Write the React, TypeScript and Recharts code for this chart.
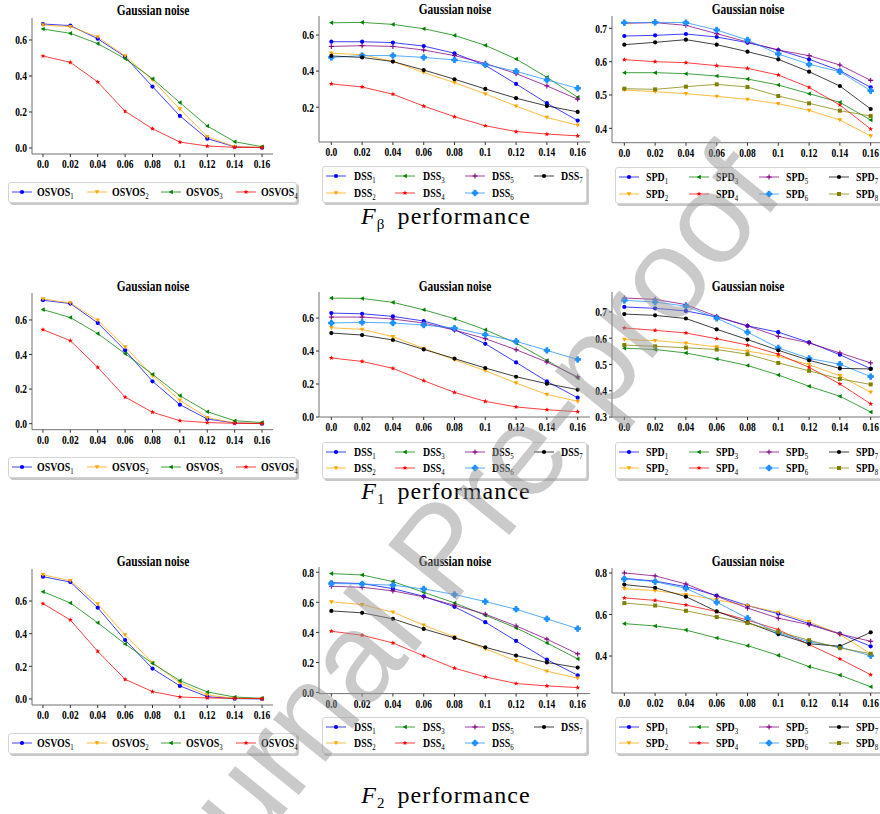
import React from 'react';
import { LineChart, Line, XAxis, YAxis } from 'recharts';

const noise = [0, 0.02, 0.04, 0.06, 0.08, 0.1, 0.12, 0.14, 0.16];
const noiseLabels = ['0.0', '0.02', '0.04', '0.06', '0.08', '0.1', '0.12', '0.14', '0.16'];

const osvosNames = ['OSVOS', 'OSVOS', 'OSVOS', 'OSVOS'];
const dssNames = ['DSS', 'DSS', 'DSS', 'DSS', 'DSS', 'DSS', 'DSS'];
const spdNames = ['SPD', 'SPD', 'SPD', 'SPD', 'SPD', 'SPD', 'SPD', 'SPD'];

// F-beta
const fbOsvos = [
  [0.689, 0.68, 0.607, 0.507, 0.341, 0.178, 0.052, 0.007, 0.002],
  [0.683, 0.674, 0.617, 0.511, 0.378, 0.217, 0.063, 0.007, 0.004],
  [0.661, 0.637, 0.58, 0.496, 0.385, 0.252, 0.122, 0.035, 0.007],
  [0.511, 0.476, 0.367, 0.204, 0.107, 0.033, 0.011, 0.004, 0.002],
];
const fbDss = [
  [0.563, 0.563, 0.558, 0.539, 0.499, 0.432, 0.329, 0.222, 0.126],
  [0.499, 0.491, 0.454, 0.392, 0.336, 0.274, 0.206, 0.143, 0.1],
  [0.668, 0.67, 0.659, 0.635, 0.598, 0.543, 0.467, 0.366, 0.255],
  [0.329, 0.312, 0.272, 0.206, 0.147, 0.097, 0.065, 0.051, 0.041],
  [0.537, 0.541, 0.537, 0.517, 0.486, 0.443, 0.386, 0.318, 0.244],
  [0.476, 0.486, 0.486, 0.476, 0.462, 0.436, 0.399, 0.351, 0.305],
  [0.484, 0.476, 0.453, 0.406, 0.355, 0.301, 0.25, 0.207, 0.174],
];
const fbSpd = [
  [0.677, 0.679, 0.683, 0.674, 0.657, 0.635, 0.607, 0.573, 0.523],
  [0.515, 0.51, 0.504, 0.496, 0.487, 0.474, 0.454, 0.425, 0.377],
  [0.567, 0.567, 0.564, 0.557, 0.548, 0.53, 0.504, 0.478, 0.425],
  [0.606, 0.6, 0.597, 0.588, 0.58, 0.56, 0.523, 0.47, 0.398],
  [0.715, 0.717, 0.709, 0.684, 0.659, 0.635, 0.618, 0.59, 0.544],
  [0.717, 0.718, 0.717, 0.695, 0.665, 0.623, 0.592, 0.57, 0.513],
  [0.651, 0.658, 0.666, 0.651, 0.63, 0.607, 0.57, 0.527, 0.458],
  [0.519, 0.517, 0.525, 0.532, 0.524, 0.497, 0.475, 0.453, 0.437],
];

// F1
const f1Osvos = [
  [0.714, 0.695, 0.583, 0.424, 0.245, 0.11, 0.027, 0.004, 0.0],
  [0.722, 0.698, 0.598, 0.444, 0.278, 0.135, 0.035, 0.004, 0.002],
  [0.66, 0.614, 0.521, 0.405, 0.286, 0.162, 0.069, 0.017, 0.006],
  [0.544, 0.48, 0.326, 0.154, 0.066, 0.017, 0.006, 0.002, 0.0],
];
const f1Dss = [
  [0.63, 0.626, 0.61, 0.582, 0.529, 0.444, 0.331, 0.216, 0.117],
  [0.541, 0.531, 0.487, 0.416, 0.347, 0.281, 0.206, 0.137, 0.095],
  [0.721, 0.719, 0.695, 0.65, 0.596, 0.529, 0.448, 0.343, 0.236],
  [0.358, 0.337, 0.295, 0.22, 0.149, 0.095, 0.061, 0.044, 0.032],
  [0.606, 0.606, 0.594, 0.57, 0.527, 0.475, 0.408, 0.333, 0.244],
  [0.57, 0.574, 0.57, 0.558, 0.539, 0.499, 0.459, 0.404, 0.349],
  [0.509, 0.497, 0.467, 0.41, 0.354, 0.297, 0.244, 0.202, 0.166],
];
const f1Spd = [
  [0.719, 0.714, 0.704, 0.681, 0.647, 0.623, 0.584, 0.537, 0.484],
  [0.595, 0.591, 0.581, 0.567, 0.551, 0.531, 0.499, 0.457, 0.394],
  [0.562, 0.557, 0.544, 0.521, 0.496, 0.46, 0.417, 0.379, 0.319],
  [0.639, 0.63, 0.62, 0.598, 0.574, 0.539, 0.489, 0.426, 0.35],
  [0.753, 0.748, 0.728, 0.683, 0.647, 0.607, 0.582, 0.544, 0.506],
  [0.744, 0.738, 0.722, 0.676, 0.623, 0.563, 0.523, 0.501, 0.454],
  [0.692, 0.687, 0.675, 0.634, 0.595, 0.554, 0.516, 0.485, 0.483],
  [0.574, 0.569, 0.564, 0.557, 0.539, 0.506, 0.476, 0.445, 0.424],
];

// F2
const f2Osvos = [
  [0.749, 0.716, 0.559, 0.361, 0.186, 0.08, 0.014, 0.002, 0.0],
  [0.761, 0.724, 0.582, 0.392, 0.222, 0.1, 0.024, 0.004, 0.002],
  [0.657, 0.588, 0.467, 0.337, 0.218, 0.112, 0.043, 0.012, 0.004],
  [0.584, 0.484, 0.292, 0.12, 0.045, 0.012, 0.006, 0.004, 0.002],
];
const f2Dss = [
  [0.731, 0.725, 0.691, 0.64, 0.57, 0.468, 0.343, 0.219, 0.115],
  [0.603, 0.585, 0.534, 0.448, 0.37, 0.29, 0.211, 0.142, 0.095],
  [0.791, 0.782, 0.738, 0.667, 0.596, 0.514, 0.43, 0.33, 0.224],
  [0.408, 0.381, 0.33, 0.244, 0.162, 0.104, 0.06, 0.044, 0.033],
  [0.707, 0.7, 0.676, 0.636, 0.581, 0.521, 0.443, 0.355, 0.257],
  [0.725, 0.722, 0.714, 0.689, 0.652, 0.605, 0.554, 0.49, 0.425],
  [0.543, 0.53, 0.49, 0.423, 0.363, 0.301, 0.246, 0.2, 0.166],
];
const f2Spd = [
  [0.774, 0.761, 0.734, 0.691, 0.643, 0.604, 0.556, 0.508, 0.447],
  [0.724, 0.715, 0.696, 0.671, 0.643, 0.61, 0.565, 0.504, 0.411],
  [0.556, 0.545, 0.525, 0.487, 0.45, 0.403, 0.349, 0.308, 0.252],
  [0.68, 0.668, 0.646, 0.614, 0.573, 0.527, 0.455, 0.386, 0.31],
  [0.8, 0.786, 0.747, 0.688, 0.631, 0.582, 0.551, 0.506, 0.471],
  [0.771, 0.758, 0.726, 0.659, 0.582, 0.511, 0.469, 0.443, 0.402],
  [0.744, 0.729, 0.686, 0.615, 0.562, 0.506, 0.459, 0.447, 0.514],
  [0.655, 0.643, 0.618, 0.588, 0.559, 0.517, 0.476, 0.439, 0.411],
];

const colors = ['#0000ff', '#ffa500', '#008000', '#ff0000', '#800080', '#1e90ff', '#000000', '#808000'];
const markers = ['o', 'v', '<', '*', '+', 'P', 'o', 's'];

const SERIF = '"Liberation Serif", "Times New Roman", serif';
const FRAME = '#707070';
const AXIS_W = 45;
const AXIS_H = 25;
const PAD_T = 20;
const xDomain: [number, number] = [-0.008, 0.168];

function Marker({ shape, cx, cy, color }: { shape: string; cx: number; cy: number; color: string }) {
  if (shape === 'v') {
    return <polygon points={`${cx - 2.3},${cy - 1.7} ${cx + 2.3},${cy - 1.7} ${cx},${cy + 2.3}`} fill={color} />;
  }
  if (shape === '<') {
    return <polygon points={`${cx - 2.3},${cy} ${cx + 1.8},${cy - 2.3} ${cx + 1.8},${cy + 2.3}`} fill={color} />;
  }
  if (shape === '*') {
    const pts: string[] = [];
    for (let i = 0; i < 10; i++) {
      const r = i % 2 === 0 ? 2.6 : 1.1;
      const a = -Math.PI / 2 + (i * Math.PI) / 5;
      pts.push(`${cx + r * Math.cos(a)},${cy + r * Math.sin(a)}`);
    }
    return <polygon points={pts.join(' ')} fill={color} />;
  }
  if (shape === '+') {
    return (
      <g stroke={color} strokeWidth={1.1}>
        <line x1={cx - 2.5} y1={cy} x2={cx + 2.5} y2={cy} />
        <line x1={cx} y1={cy - 2.5} x2={cx} y2={cy + 2.5} />
      </g>
    );
  }
  if (shape === 'P') {
    return (
      <g fill={color}>
        <rect x={cx - 3.2} y={cy - 1.3} width={6.4} height={2.6} />
        <rect x={cx - 1.3} y={cy - 3.2} width={2.6} height={6.4} />
        <circle cx={cx} cy={cy} r={2.2} />
      </g>
    );
  }
  if (shape === 's') {
    return <rect x={cx - 2} y={cy - 2} width={4} height={4} fill={color} />;
  }
  return <circle cx={cx} cy={cy} r={2.1} fill={color} />;
}

const makeDot = (k: number) => (p: any) => (
  <Marker key={`d${k}-${p.index}`} shape={markers[k]} cx={p.cx} cy={p.cy} color={colors[k]} />
);

const XTick = (p: any) => {
  const i = noise.findIndex((v) => Math.abs(v - p.payload.value) < 1e-9);
  return (
    <g transform={`translate(${p.x},${p.y}) scale(0.76,1)`}>
      <text x={0} y={0} dy={9} textAnchor="middle" fontSize={12.5} fontWeight="bold" fontFamily={SERIF} fill="#000">
        {noiseLabels[i]}
      </text>
    </g>
  );
};

const YTick = (p: any) => (
  <g transform={`translate(${p.x},${p.y}) scale(0.76,1)`}>
    <text x={0} y={0} dy={4.3} textAnchor="end" fontSize={12.5} fontWeight="bold" fontFamily={SERIF} fill="#000">
      {Number(p.payload.value).toFixed(1)}
    </text>
  </g>
);

type PanelProps = {
  box: [number, number, number, number];
  yDomain: [number, number];
  yTicks: number[];
  series: number[][];
};

function Panel({ box, yDomain, yTicks, series }: PanelProps) {
  const [L, T, R, B] = box;
  const data = noise.map((x, i) => {
    const row: Record<string, number> = { x };
    series.forEach((s, k) => {
      row['s' + k] = s[i];
    });
    return row;
  });
  const w = AXIS_W + (R - L) + 2;
  const h = PAD_T + (B - T) + AXIS_H;
  return (
    <div style={{ position: 'absolute', left: L - AXIS_W, top: T - PAD_T }}>
      <LineChart width={w} height={h} data={data} margin={{ top: PAD_T, right: 2, bottom: 0, left: 0 }}>
        <XAxis
          dataKey="x"
          type="number"
          domain={xDomain}
          allowDataOverflow
          ticks={noise}
          interval={0}
          height={AXIS_H}
          tick={XTick}
          tickSize={3}
          tickMargin={2}
          stroke={FRAME}
          tickLine={{ stroke: '#333' }}
        />
        <XAxis
          xAxisId="top"
          orientation="top"
          dataKey="x"
          type="number"
          domain={xDomain}
          allowDataOverflow
          height={0}
          tick={false}
          tickLine={false}
          stroke={FRAME}
        />
        <YAxis
          type="number"
          domain={yDomain}
          allowDataOverflow
          ticks={yTicks}
          interval={0}
          width={AXIS_W}
          tick={YTick}
          tickSize={3}
          tickMargin={2}
          stroke={FRAME}
          tickLine={{ stroke: '#333' }}
        />
        <YAxis
          yAxisId="right"
          orientation="right"
          type="number"
          domain={yDomain}
          allowDataOverflow
          width={0}
          tick={false}
          tickLine={false}
          stroke={FRAME}
        />
        {series.map((_, k) => (
          <Line
            key={k}
            dataKey={'s' + k}
            stroke={colors[k]}
            strokeOpacity={0.75}
            strokeWidth={1}
            dot={makeDot(k)}
            activeDot={false}
            isAnimationActive={false}
          />
        ))}
      </LineChart>
    </div>
  );
}

type LegendProps = {
  left: number;
  top: number;
  width: number;
  names: string[];
  rows: number;
  step: number;
  textGap: number;
};

function LegendBox({ left, top, width, names, rows, step, textGap }: LegendProps) {
  const height = rows === 1 ? 21 : 37;
  return (
    <div
      style={{
        position: 'absolute',
        left,
        top,
        width,
        height,
        border: '1px solid #d4d4d4',
        borderRadius: 3,
        boxShadow: '2px 2px 0 rgba(0,0,0,0.22)',
        background: '#fff',
        boxSizing: 'border-box',
      }}
    >
      {names.map((n, i) => {
        const col = rows === 1 ? i : Math.floor(i / 2);
        const row = rows === 1 ? 0 : i % 2;
        const cy = 9 + row * 16.5;
        const lx = 3 + col * step;
        return (
          <div key={i}>
            <svg style={{ position: 'absolute', left: lx, top: cy - 5 }} width={20} height={10}>
              <line x1={0} y1={5} x2={20} y2={5} stroke={colors[i]} strokeOpacity={0.75} strokeWidth={1} />
              <Marker shape={markers[i]} cx={10} cy={5} color={colors[i]} />
            </svg>
            <div
              style={{
                position: 'absolute',
                left: lx + textGap,
                top: cy - 8,
                fontFamily: SERIF,
                fontWeight: 'bold',
                fontSize: 13,
                lineHeight: '15px',
                whiteSpace: 'nowrap',
                transform: 'scaleX(0.76)',
                transformOrigin: 'left center',
              }}
            >
              {n}
              <sub style={{ fontSize: 9, fontWeight: 'normal', verticalAlign: -3 }}>{i + 1}</sub>
            </div>
          </div>
        );
      })}
    </div>
  );
}

function Title({ cx, cy }: { cx: number; cy: number }) {
  return (
    <div
      style={{
        position: 'absolute',
        left: cx,
        top: cy,
        transform: 'translate(-50%,-50%) scaleX(0.76)',
        fontFamily: SERIF,
        fontWeight: 'bold',
        fontSize: 15,
        whiteSpace: 'nowrap',
      }}
    >
      Gaussian noise
    </div>
  );
}

function Caption({ cy, sub }: { cy: number; sub: string }) {
  return (
    <div
      style={{
        position: 'absolute',
        left: 446,
        top: cy,
        transform: 'translate(-50%,-50%)',
        fontFamily: SERIF,
        fontSize: 24,
        letterSpacing: 1.1,
        whiteSpace: 'nowrap',
      }}
    >
      <span style={{ fontStyle: 'italic' }}>F</span>
      <sub style={{ fontSize: 15, verticalAlign: -5 }}>{sub}</sub>
      <span style={{ marginLeft: 12 }}>performance</span>
    </div>
  );
}

const C1: [number, number] = [32, 273];
const C2: [number, number] = [319, 590];
const C3: [number, number] = [612, 883];

export default function App() {
  return (
    <div
      style={{
        position: 'absolute',
        left: 0,
        top: 0,
        width: 880,
        height: 814,
        overflow: 'hidden',
        background: '#fff',
      }}
    >
      <Panel box={[C1[0], 18, C1[1], 154]} yDomain={[-0.0333, 0.7222]} yTicks={[0, 0.2, 0.4, 0.6]} series={fbOsvos} />
      <Panel box={[C2[0], 16, C2[1], 142]} yDomain={[0.007, 0.7056]} yTicks={[0.2, 0.4, 0.6]} series={fbDss} />
      <Panel box={[C3[0], 16, C3[1], 142.7]} yDomain={[0.357, 0.737]} yTicks={[0.4, 0.5, 0.6, 0.7]} series={fbSpd} />

      <Panel box={[C1[0], 293.3, C1[1], 430]} yDomain={[-0.035, 0.756]} yTicks={[0, 0.2, 0.4, 0.6]} series={f1Osvos} />
      <Panel box={[C2[0], 292.3, C2[1], 417.3]} yDomain={[0.0, 0.758]} yTicks={[0, 0.2, 0.4, 0.6]} series={f1Dss} />
      <Panel box={[C3[0], 292.3, C3[1], 417.3]} yDomain={[0.3, 0.776]} yTicks={[0.3, 0.4, 0.5, 0.6, 0.7]} series={f1Spd} />

      <Panel box={[C1[0], 569, C1[1], 705]} yDomain={[-0.037, 0.796]} yTicks={[0, 0.2, 0.4, 0.6]} series={f2Osvos} />
      <Panel box={[C2[0], 566.7, C2[1], 693.3]} yDomain={[-0.007, 0.835]} yTicks={[0, 0.2, 0.4, 0.6, 0.8]} series={f2Dss} />
      <Panel box={[C3[0], 568.3, C3[1], 693.3]} yDomain={[0.222, 0.824]} yTicks={[0.4, 0.6, 0.8]} series={f2Spd} />

      <LegendBox left={8} top={182} width={289} names={osvosNames} rows={1} step={74.7} textGap={25} />
      <LegendBox left={322} top={166} width={265} names={dssNames} rows={2} step={69.3} textGap={27.5} />
      <LegendBox left={615} top={167} width={290} names={spdNames} rows={2} step={70} textGap={27} />

      <LegendBox left={8} top={457} width={289} names={osvosNames} rows={1} step={74.7} textGap={25} />
      <LegendBox left={322} top={441.7} width={265} names={dssNames} rows={2} step={69.3} textGap={27.5} />
      <LegendBox left={615} top={441.7} width={290} names={spdNames} rows={2} step={70} textGap={27} />

      <LegendBox left={8} top={732.7} width={289} names={osvosNames} rows={1} step={74.7} textGap={25} />
      <LegendBox left={322} top={716.7} width={265} names={dssNames} rows={2} step={69.3} textGap={27.5} />
      <LegendBox left={615} top={716.7} width={290} names={spdNames} rows={2} step={70} textGap={27} />

      <Title cx={152.5} cy={10} />
      <Title cx={454.5} cy={9} />
      <Title cx={747.5} cy={9} />
      <Title cx={152.5} cy={286} />
      <Title cx={454.5} cy={286} />
      <Title cx={747.5} cy={286} />
      <Title cx={152.5} cy={561} />
      <Title cx={454.5} cy={561} />
      <Title cx={747.5} cy={561} />

      <Caption cy={218} sub="β" />
      <Caption cy={493} sub="1" />
      <Caption cy={797} sub="2" />

      <div
        style={{
          position: 'absolute',
          left: 440,
          top: 550,
          transform: 'translate(-50%,-50%) rotate(-51deg)',
          fontFamily: '"Liberation Sans", Arial, sans-serif',
          fontSize: 128,
          color: 'rgba(150,150,150,0.5)',
          whiteSpace: 'nowrap',
          pointerEvents: 'none',
        }}
      >
        Journal Pre-proof
      </div>
    </div>
  );
}
